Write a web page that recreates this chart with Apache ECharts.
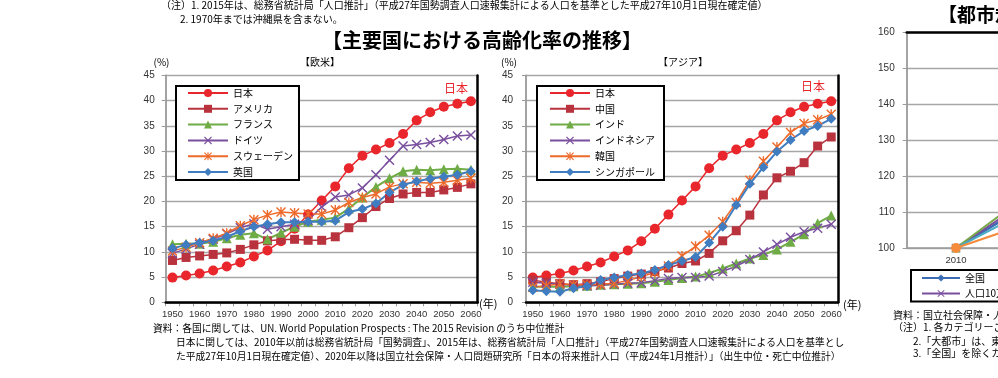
<!DOCTYPE html>
<html><head><meta charset="utf-8">
<script src="https://cdn.jsdelivr.net/npm/echarts@6/dist/echarts.min.js"></script>
<style>html,body{margin:0;padding:0;background:#fff}#c{width:998px;height:378px}</style>
</head><body><div id="c"></div><script>
// ---- data ----
const years = ['1950','1955','1960','1965','1970','1975','1980','1985','1990','1995','2000','2005','2010','2015','2020','2025','2030','2035','2040','2045','2050','2055','2060'];
const japan   = [4.9,5.3,5.7,6.3,7.1,7.9,9.1,10.3,12.1,14.6,17.4,20.2,23.0,26.6,29.1,30.3,31.6,33.4,36.1,37.7,38.8,39.4,39.9];
const usa     = [8.3,8.9,9.2,9.5,9.8,10.5,11.4,12.2,12.4,12.5,12.3,12.3,13.0,14.8,16.8,19.0,20.6,21.5,21.8,21.8,22.3,22.8,23.5];
const france  = [11.5,11.6,11.6,12.0,12.7,13.4,13.7,12.5,13.8,15.0,16.0,16.4,16.8,18.6,20.8,22.9,24.6,26.0,26.3,26.2,26.4,26.5,26.3];
const germany = [9.7,10.6,11.5,12.5,13.6,14.8,15.6,14.5,15.0,15.5,16.3,18.9,20.9,21.3,22.7,25.3,28.2,31.0,31.3,31.7,32.3,33.0,33.2];
const sweden  = [10.2,10.9,11.8,12.7,13.7,15.2,16.4,17.3,17.9,17.7,17.5,17.5,18.3,19.8,20.8,21.5,22.9,23.5,23.8,23.6,23.8,24.2,24.6];
const uk      = [10.7,11.4,11.8,12.2,13.0,14.1,15.0,15.5,15.9,15.9,16.0,16.0,16.2,17.9,18.5,19.6,21.8,23.3,24.0,24.5,24.9,25.3,26.0];
const china     = [4.4,4.0,3.7,3.5,3.7,4.1,4.7,5.2,5.6,6.1,6.8,7.7,8.2,9.7,12.2,14.2,17.3,21.3,24.7,26.0,27.7,31.0,32.8];
const india     = [3.1,3.1,3.1,3.2,3.3,3.5,3.6,3.7,3.8,4.1,4.4,4.8,5.1,5.8,6.7,7.7,8.7,9.4,10.5,12.0,13.5,15.7,17.2];
const indonesia = [4.0,3.8,3.6,3.4,3.3,3.4,3.6,3.8,3.9,4.3,4.7,4.9,4.9,5.2,6.1,7.2,8.5,10.0,11.5,12.9,14.0,14.7,15.5];
const korea     = [3.0,3.3,3.7,3.5,3.5,3.6,3.8,4.3,5.1,5.9,7.2,9.2,11.1,13.3,16.0,19.8,24.2,28.0,30.8,33.7,35.5,36.2,37.3];
const singapore = [2.4,2.2,2.1,2.8,3.2,4.4,4.9,5.4,5.7,6.4,7.4,8.2,9.0,11.8,15.0,19.3,23.5,26.8,29.9,32.2,34.0,35.0,36.4];
const cityYears = ['2010','2015','2020','2025','2030','2035','2040'];
const cityNames = ['全国','人口10万人未満の市町村','人口10万人以上の市','中核市・特例市','大都市'];
const cityAll   = [100,116.5];
const citySmall = [100,118.3];
const cityMid   = [100,120.4];
const cityCore  = [100,114.2];
const cityBig   = [100,109.4];
const westNames = ['日本','アメリカ','フランス','ドイツ','スウェーデン','英国'];
const asiaNames = ['日本','中国','インド','インドネシア','韓国','シンガポール'];

// ---- styles ----
const C = {red:'#E8262B', crimson:'#B8333E', green:'#6FAC46', purple:'#7A4F9E', orange:'#EE6A2A', blue:'#3F7CC0', cyan:'#4BACC6', corange:'#F58A3A'};
const XSYM = 'path://M1,0L5,4L9,0L10,1L6,5L10,9L9,10L5,6L1,10L0,9L4,5L0,1Z';
const STAR = 'path://M1,0L5,4L9,0L10,1L6,5L10,9L9,10L5,6L1,10L0,9L4,5L0,1Z M4.3,0L5.7,0L5.7,10L4.3,10Z';
const JP = '"Noto Sans CJK JP", sans-serif';
const NUM = '"Liberation Sans", Arial, sans-serif';

function ser(name, data, color, symbol, size, width, ax){
  return {type:'line', name, data, xAxisIndex:ax[0], yAxisIndex:ax[1], symbol, symbolSize:size,
    showSymbol:true, showAllSymbol:true, animation:false,
    lineStyle:{color, width}, itemStyle:{color}, emphasis:{disabled:true}};
}

function axesFor(g, cats, min, max, interval, labMargin, xTicks){
  const gray = '#9a9a9a';
  return {
    x:[
      {gridIndex:g, type:'category', data:cats, position:'bottom', boundaryGap:true,
       axisLine:{lineStyle:{color:gray, width:1.5}},
       axisTick:{show:xTicks, interval:0, length:4, lineStyle:{color:gray}},
       axisLabel:{interval: xTicks ? 1 : 0, margin:7, fontSize:9.5, color:'#333', fontFamily:NUM},
       splitLine:{show:false}},
      {gridIndex:g, type:'category', data:cats, position:'top', boundaryGap:true, z:5,
       axisLine:{lineStyle:{color:'#000', width:2.5}}, axisTick:{show:false}, axisLabel:{show:false}, splitLine:{show:false}}
    ],
    y:[
      {gridIndex:g, type:'value', min, max, interval, position:'left',
       axisLine:{show:true, lineStyle:{color:gray, width:1.8}},
       axisTick:{show:true, length:4, lineStyle:{color:gray}},
       axisLabel:{margin:labMargin, fontSize:10, color:'#333', fontFamily:NUM},
       splitLine:{show:true, lineStyle:{color:'#a6a6a6', width:1.4}}},
      {gridIndex:g, type:'value', min, max, interval, position:'right', z:5,
       axisLine:{show:true, lineStyle:{color:'#000', width:2.5}}, axisTick:{show:false}, axisLabel:{show:false}, splitLine:{show:false}}
    ]
  };
}
const a0 = axesFor(0, years, 0, 45, 5, 11, true);
const a1 = axesFor(1, years, 0, 45, 5, 13, true);
const a2 = axesFor(2, cityYears, 100, 160, 10, 12, false);

function txt(text, x, y, size, opts){
  opts = opts || {};
  return {type:'text', silent:true, z:100, style:{text, x, y, fill: opts.fill || '#000',
    font: (opts.bold ? 'bold ' : '') + size + 'px ' + (opts.family || JP),
    textAlign: opts.align || 'left', textVerticalAlign:'middle', align: opts.align || 'left', verticalAlign:'middle'}};
}

const legendBase = {orient:'vertical', itemWidth:40, itemHeight:10, itemGap:5.8, backgroundColor:'#fff',
  borderColor:'#000', borderWidth:2, borderRadius:0, selectedMode:false,
  textStyle:{fontFamily:JP, fontSize:10, color:'#000'}};

const option = {
  animation:false,
  backgroundColor:'#fff',
  grid:[
    {left:165.7, top:75.5, width:312, height:226.8, outerBoundsMode:'none', containLabel:false},
    {left:526, top:75.5, width:312, height:226.8, outerBoundsMode:'none', containLabel:false},
    {left:906.7, top:32.3, width:690, height:215.7, outerBoundsMode:'none', containLabel:false}
  ],
  xAxis:[...a0.x, ...a1.x, ...a2.x],
  yAxis:[...a0.y, ...a1.y, ...a2.y],
  legend:[
    Object.assign({}, legendBase, {left:176, top:86, padding:[2,6,3,11], data:westNames}),
    Object.assign({}, legendBase, {left:537, top:86, padding:[2,9,3,12], data:asiaNames}),
    Object.assign({}, legendBase, {left:911, top:270, height:30, itemWidth:38, itemHeight:9, itemGap:5.5, padding:[3,8,3,10], data:cityNames})
  ],
  series:[
    ser('日本', japan, C.red, 'circle', 10, 1.5, [0,0]),
    ser('アメリカ', usa, C.crimson, 'rect', 9, 1.5, [0,0]),
    ser('フランス', france, C.green, 'triangle', 10, 2, [0,0]),
    ser('ドイツ', germany, C.purple, XSYM, 10, 1.5, [0,0]),
    ser('スウェーデン', sweden, C.orange, STAR, 10, 1.5, [0,0]),
    ser('英国', uk, C.blue, 'diamond', 10, 2, [0,0]),
    ser('日本', japan, C.red, 'circle', 10, 1.5, [2,2]),
    ser('中国', china, C.crimson, 'rect', 9, 1.5, [2,2]),
    ser('インド', india, C.green, 'triangle', 10, 2, [2,2]),
    ser('インドネシア', indonesia, C.purple, XSYM, 10, 1.5, [2,2]),
    ser('韓国', korea, C.orange, STAR, 10, 1.5, [2,2]),
    ser('シンガポール', singapore, C.blue, 'diamond', 10, 2, [2,2]),
    ser('全国', cityAll, '#3B6DB3', 'diamond', 9, 2.5, [4,4]),
    ser('人口10万人未満の市町村', citySmall, C.purple, XSYM, 9, 2, [4,4]),
    ser('人口10万人以上の市', cityMid, '#77A94A', 'triangle', 9, 2, [4,4]),
    ser('中核市・特例市', cityCore, C.cyan, 'rect', 8, 2, [4,4]),
    ser('大都市', cityBig, C.corange, 'circle', 10, 2, [4,4])
  ],
  graphic:[
    txt('（注）1. 2015年は、総務省統計局「人口推計」（平成27年国勢調査人口速報集計による人口を基準とした平成27年10月1日現在確定値）', 161, 5, 10),
    txt('2. 1970年までは沖縄県を含まない。', 180, 19, 10),
    txt('【主要国における高齢化率の推移】', 322, 40, 20, {bold:true}),
    txt('【欧米】', 320, 62, 10, {align:'center'}),
    txt('【アジア】', 683, 62, 10, {align:'center'}),
    txt('(%)', 161.5, 62, 10, {align:'center'}),
    txt('(%)', 509, 62, 10, {align:'center'}),
    txt('日本', 444, 88, 12, {fill:C.red}),
    txt('日本', 801, 86, 12, {fill:C.red}),
    txt('(年)', 479, 304, 11),
    txt('(年)', 843, 305, 11),
    txt('資料：各国に関しては、UN. World Population Prospects : The 2015 Revision のうち中位推計', 153, 328, 9.75),
    txt('日本に関しては、2010年以前は総務省統計局「国勢調査」、2015年は、総務省統計局「人口推計」（平成27年国勢調査人口速報集計による人口を基準とし', 176, 342, 9.75),
    txt('た平成27年10月1日現在確定値）、2020年以降は国立社会保障・人口問題研究所「日本の将来推計人口（平成24年1月推計）」（出生中位・死亡中位推計）', 176, 356, 9.75),
    txt('【都市規模別の高齢者人口の推移】', 938, 15, 19, {bold:true}),
    txt('資料：国立社会保障・人口問題研究所', 893, 315, 10),
    txt('（注）1. 各カテゴリーごとの', 893, 327, 10),
    txt('2.「大都市」は、東京23区', 913, 341, 10),
    txt('3.「全国」を除くカテゴリー', 913, 353, 10)
  ]
};
const chart = echarts.init(document.getElementById('c'), null, {renderer:'canvas'});
chart.setOption(option);
</script></body></html>
